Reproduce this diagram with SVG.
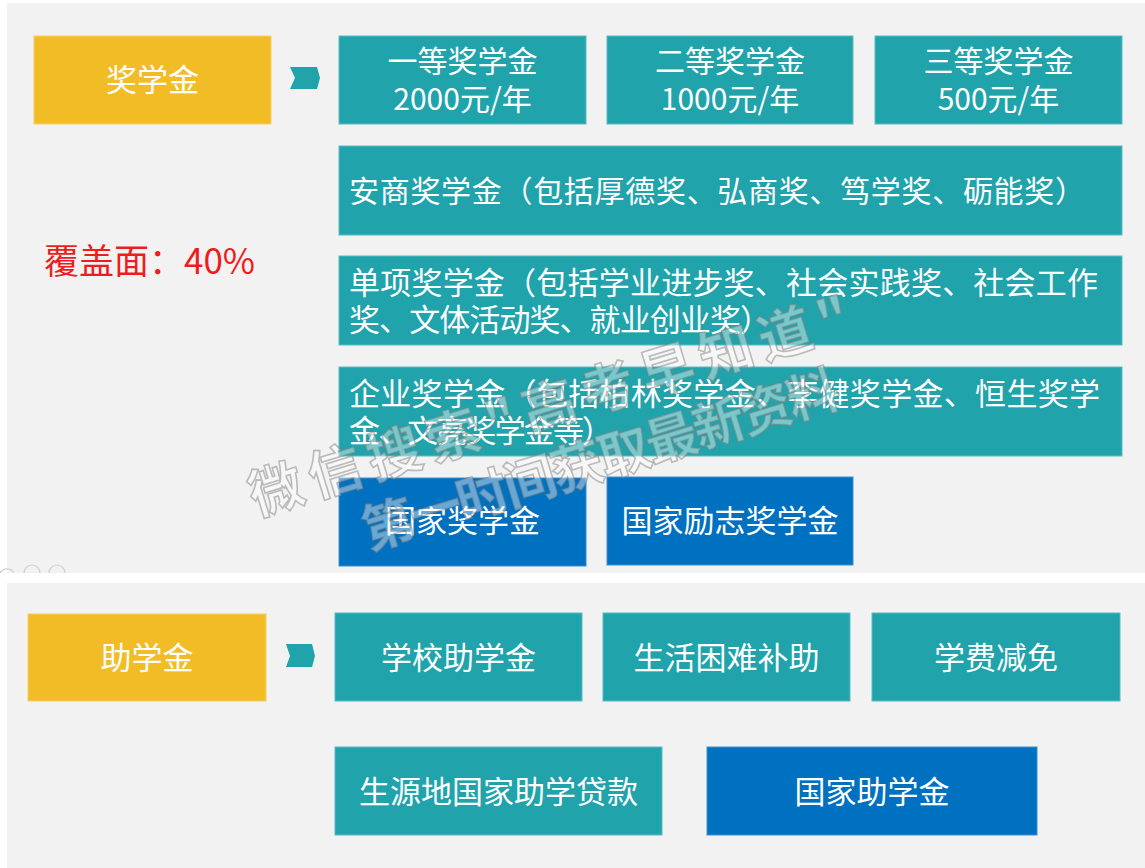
<svg xmlns="http://www.w3.org/2000/svg" width="1145" height="868" viewBox="0 0 1145 868">
<style>
text{font-family:"Noto Sans CJK SC","Microsoft YaHei","Noto Sans",sans-serif;fill:#fff;font-weight:400;}
.c{text-anchor:middle;}
.t{fill:#20a3ab;stroke:#56bcc2;stroke-width:1;}
.b{fill:#0070c0;stroke:#3a8fd0;stroke-width:1;}
.y{fill:#f2bc26;stroke:#f6cf63;stroke-width:1;}
.f30{font-size:30px;}
.f31{font-size:31px;}
.chev{fill:#20a3ab;}
.wm{font-size:54px;font-weight:700;fill:#fff;fill-opacity:0.4;stroke:#808080;stroke-opacity:0.5;stroke-width:1.6;}
</style>
<rect x="0" y="0" width="1145" height="868" fill="#ffffff"/>
<rect id="panel-top" x="7" y="3" width="1138" height="570" fill="#f2f2f2"/>
<rect id="panel-bottom" x="7" y="583" width="1138" height="285" fill="#f2f2f2"/>
<g id="nav-icons" fill="none" stroke="#cfcfcf" stroke-width="1.2">
<path d="M0,573 A8,8 0 0 1 14,573"/>
<path d="M24,573 A8,8 0 0 1 40,573"/>
<path d="M49,573 A8,8 0 0 1 65,573"/>
</g>

<g id="connectors">
<polygon class="chev" points="290,67 317,67 320,78 317,89 290,89 295,78"/>
<polygon class="chev" points="286,644 312,644 315,656 312,667 286,667 290,656"/>
</g>

<g id="node-jiangxuejin"><rect class="y" x="34" y="36" width="237" height="88"/><text class="c f31" x="152.5" y="91">奖学金</text></g>
<g id="node-yideng"><rect class="t" x="339" y="36" width="247" height="88"/><text class="c f30" x="462.5" y="72">一等奖学金</text><text class="c f30" x="462.5" y="110">2000元/年</text></g>
<g id="node-erdeng"><rect class="t" x="607" y="36" width="246" height="88"/><text class="c f30" x="730" y="72">二等奖学金</text><text class="c f30" x="730" y="110">1000元/年</text></g>
<g id="node-sandeng"><rect class="t" x="875" y="36" width="247" height="88"/><text class="c f30" x="998.5" y="72">三等奖学金</text><text class="c f30" x="998.5" y="110">500元/年</text></g>
<g id="node-anshang"><rect class="t" x="339" y="146" width="783" height="89"/><text class="f30" x="349" y="202" textLength="736" lengthAdjust="spacing">安商奖学金（包括厚德奖、弘商奖、笃学奖、砺能奖）</text></g>
<g id="node-coverage"><text x="44" y="274" style="font-size:35px;fill:#ee1d1d">覆盖面：40%</text></g>
<g id="node-danxiang"><rect class="t" x="339" y="256" width="783" height="89"/><text class="f31" x="349" y="294" textLength="749" lengthAdjust="spacing">单项奖学金（包括学业进步奖、社会实践奖、社会工作</text><text class="f31" x="349" y="331" textLength="422" lengthAdjust="spacing">奖、文体活动奖、就业创业奖）</text></g>
<g id="node-qiye"><rect class="t" x="339" y="367" width="783" height="89"/><text class="f31" x="349" y="405" textLength="751" lengthAdjust="spacing">企业奖学金（包括柏林奖学金、李健奖学金、恒生奖学</text><text class="f31" x="349" y="442" textLength="264" lengthAdjust="spacing">金、文亮奖学金等）</text></g>
<g id="node-guojia"><rect class="b" x="339" y="478" width="247" height="88"/><text class="c f31" x="462.5" y="532">国家奖学金</text></g>
<g id="node-lizhi"><rect class="b" x="607" y="477" width="246" height="88"/><text class="c f31" x="730" y="532">国家励志奖学金</text></g>

<g id="node-zhuxuejin"><rect class="y" x="28" y="614" width="238" height="87"/><text class="c f31" x="147" y="669">助学金</text></g>
<g id="node-xuexiao"><rect class="t" x="335" y="613" width="247" height="88"/><text class="c f31" x="458.5" y="669">学校助学金</text></g>
<g id="node-shenghuo"><rect class="t" x="603" y="613" width="247" height="88"/><text class="c f31" x="726.5" y="669">生活困难补助</text></g>
<g id="node-xuefei"><rect class="t" x="872" y="613" width="248" height="88"/><text class="c f31" x="996" y="669">学费减免</text></g>
<g id="node-shengyuandi"><rect class="t" x="335" y="747" width="327" height="88"/><text class="c f31" x="498.5" y="803">生源地国家助学贷款</text></g>
<g id="node-guojiazhuxue"><rect class="b" x="707" y="747" width="330" height="88"/><text class="c f31" x="872" y="803">国家助学金</text></g>

<g id="watermark">
<text class="wm" transform="translate(256,516) rotate(-17)" textLength="625" lengthAdjust="spacing">微信搜索"高考早知道"</text>
<text class="wm" transform="translate(369,550) rotate(-17)" style="font-size:52px" textLength="496" lengthAdjust="spacing">第一时间获取最新资料</text>
</g>
</svg>
